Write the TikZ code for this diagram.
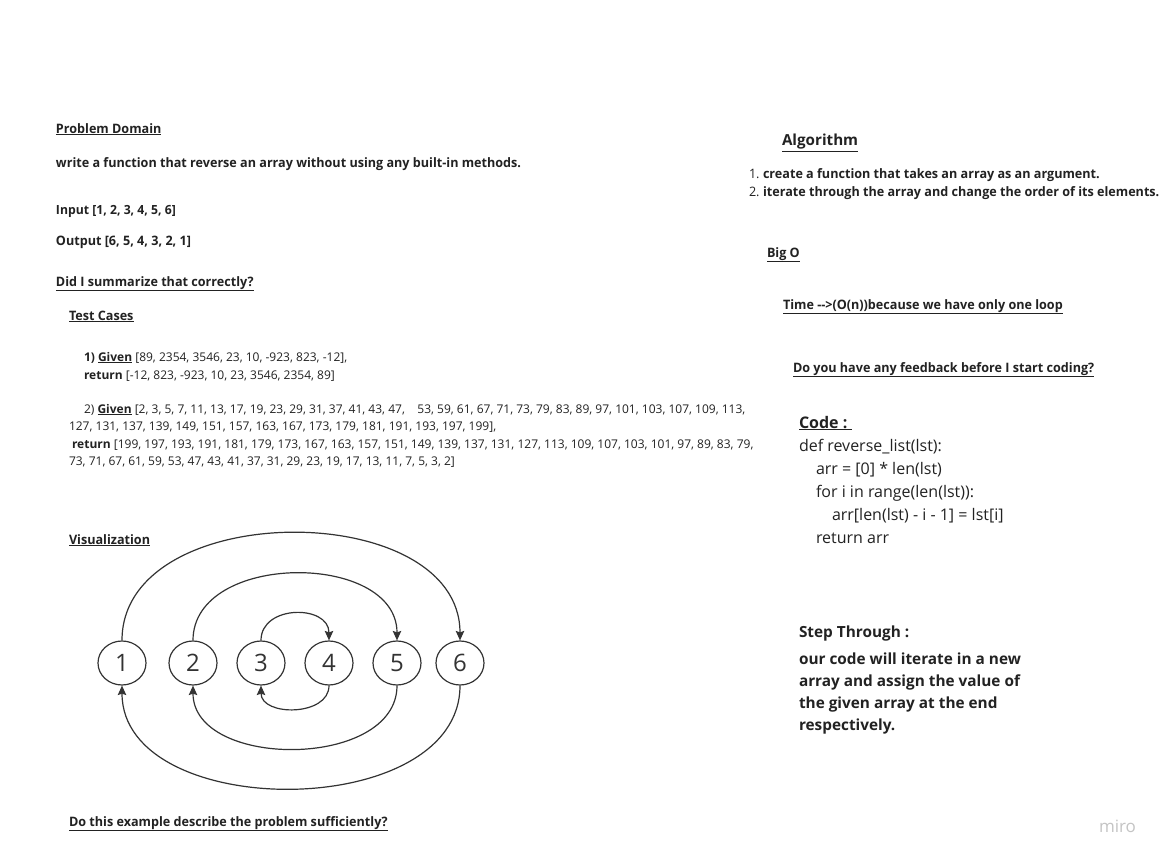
\documentclass[tikz,border=0pt]{standalone}
\usepackage{fontspec}
\setmainfont{Open Sans}
\newfontfamily\bodyfont[FakeStretch=0.97]{Open Sans}
\usetikzlibrary{shapes.geometric,arrows.meta}
\definecolor{ink}{HTML}{222222}
\definecolor{edgec}{HTML}{333333}
\definecolor{mirogray}{HTML}{C4C4C4}
\begin{document}
\begin{tikzpicture}[x=1pt,y=-1pt,
  txt/.style={anchor=base west,inner sep=0pt,outer sep=0pt,text=ink},
  body/.style={txt,font=\fontsize{13}{15}\selectfont\bodyfont\bfseries},
  cases/.style={txt,font=\fontsize{12}{14}\selectfont},
  codeline/.style={txt,font=\fontsize{16}{18}\selectfont},
  stepline/.style={txt,font=\fontsize{15.35}{18}\selectfont\bfseries},
  numnode/.style={ellipse,draw=edgec,line width=1.2pt,minimum width=48pt,minimum height=44pt,inner sep=0pt,text=edgec,font=\fontsize{24}{24}\selectfont},
  conn/.style={draw=edgec,line width=1.2pt,-{Stealth[length=9.5pt,width=8.5pt,inset=1.5pt]}}]
\useasboundingbox[fill=white] (0,0) rectangle (1163,859);

% left column
\node[body] (pd) at (56,133) {\underline{Problem Domain}};
\node[body] (wr) at (56,167) {write a function that reverse an array without using any built-in methods.};
\node[body,font=\fontsize{12.6}{15}\selectfont\bodyfont\bfseries] (inp) at (56,214) {Input [1, 2, 3, 4, 5, 6]};
\node[body] (outp) at (56,245) {Output [6, 5, 4, 3, 2, 1]};
\node[body] (sum) at (56,286) {\underline{Did I summarize that correctly?}};
\node[body] (tc) at (69,320) {\underline{Test Cases}};

\node[cases] (g1) at (84,361) {\bfseries 1) \underline{Given}\mdseries{} [89, 2354, 3546, 23, 10, -923, 823, -12],};
\node[cases] (r1) at (84,379) {\bfseries return\mdseries{} [-12, 823, -923, 10, 23, 3546, 2354, 89]};
\node[cases] (g2) at (84,413) {2) \textbf{\underline{Given}} [2, 3, 5, 7, 11, 13, 17, 19, 23, 29, 31, 37, 41, 43, 47, \ \ \ 53, 59, 61, 67, 71, 73, 79, 83, 89, 97, 101, 103, 107, 109, 113,};
\node[cases] (g2b) at (69,430) {127, 131, 137, 139, 149, 151, 157, 163, 167, 173, 179, 181, 191, 193, 197, 199],};
\node[cases] (r2) at (72,448) {\textbf{return} [199, 197, 193, 191, 181, 179, 173, 167, 163, 157, 151, 149, 139, 137, 131, 127, 113, 109, 107, 103, 101, 97, 89, 83, 79,};
\node[cases] (r2b) at (69,465) {73, 71, 67, 61, 59, 53, 47, 43, 41, 37, 31, 29, 23, 19, 17, 13, 11, 7, 5, 3, 2]};

\node[body] (vis) at (69,544) {\underline{Visualization}};
\node[body] (dothis) at (69,826) {\underline{Do this example describe the problem sufficiently?}};

% visualization
\node[numnode] (n1) at (122,663) {1};
\node[numnode] (n2) at (193,663) {2};
\node[numnode] (n3) at (261,663) {3};
\node[numnode] (n4) at (329,663) {4};
\node[numnode] (n5) at (397,663) {5};
\node[numnode] (n6) at (460,663) {6};

\draw[conn] (n1.north) .. controls +(0,-143) and +(0,-143) .. (n6.north);
\draw[conn] (n2.north) .. controls +(0,-89) and +(0,-89) .. (n5.north);
\draw[conn] (n3.north) .. controls +(0,-36) and +(0,-36) .. (n4.north);
\draw[conn] (n4.south) .. controls +(0,31) and +(0,31) .. (n3.south);
\draw[conn] (n5.south) .. controls +(0,84) and +(0,84) .. (n2.south);
\draw[conn] (n6.south) .. controls +(0,137) and +(0,137) .. (n1.south);

% right column
\node[txt,font=\fontsize{15.2}{18}\selectfont\bfseries] (alg) at (782,146) {\underline{Algorithm}};
\node[txt,font=\fontsize{13}{15}\selectfont\bodyfont] (a1n) at (749,178) {1.};
\node[body] (a1) at (763,178) {create a function that takes an array as an argument.};
\node[txt,font=\fontsize{13}{15}\selectfont\bodyfont] (a2n) at (749,196) {2.};
\node[body] (a2) at (763,196) {iterate through the array and change the order of its elements.};
\node[body] (bigo) at (767,257) {\underline{Big O}};
\node[body] (time) at (783,309) {\underline{Time {-}{-}>(O(n))because we have only one loop}};
\node[body] (fb) at (793,372) {\underline{Do you have any feedback before I start coding?}};

\node[txt,font=\fontsize{16}{18}\selectfont\bfseries] (code) at (799,428) {\underline{Code :\ }};
\node[codeline] (c1) at (799,451) {def reverse\_list(lst):};
\node[codeline] (c2) at (816,474) {arr = [0] * len(lst)};
\node[codeline] (c3) at (816,497) {for i in range(len(lst)):};
\node[codeline] (c4) at (832,520) {arr[len(lst) - i - 1] = lst[i]};
\node[codeline] (c5) at (816,543) {return arr};

\node[stepline] (st) at (799,637) {Step Through :};
\node[stepline] (s1) at (799,664) {our code will iterate in a new};
\node[stepline] (s2) at (799,686) {array and assign the value of};
\node[stepline] (s3) at (799,708) {the given array at the end};
\node[stepline] (s4) at (799,730) {respectively.};

\node[txt,text=mirogray,font=\fontsize{17}{18}\selectfont] (miro) at (1099,832) {miro};
\end{tikzpicture}
\end{document}
